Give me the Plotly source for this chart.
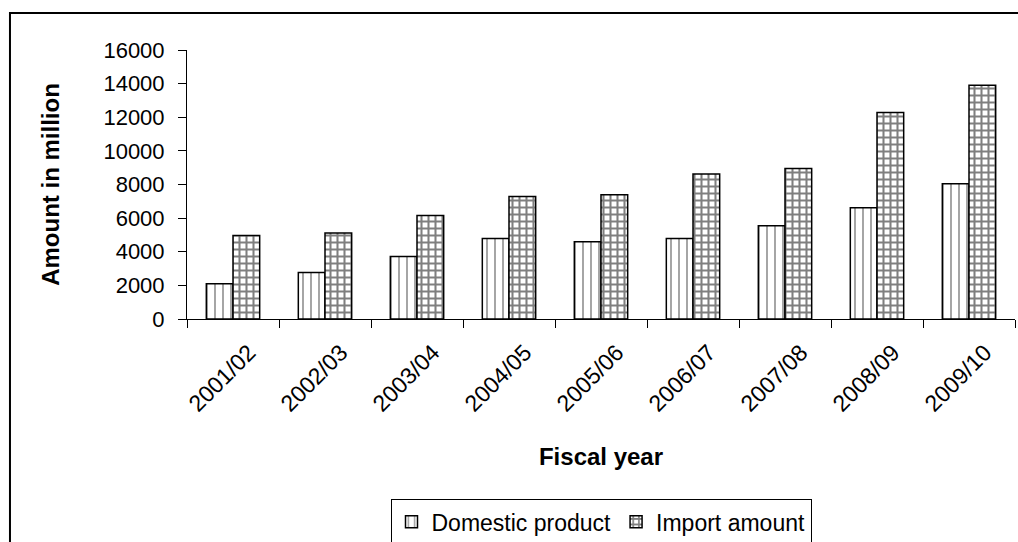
import plotly.graph_objects as go

years = ["2001/02", "2002/03", "2003/04", "2004/05", "2005/06",
         "2006/07", "2007/08", "2008/09", "2009/10"]
domestic = [2100, 2770, 3720, 4790, 4590, 4790, 5540, 6610, 8040]
imports = [4970, 5110, 6160, 7280, 7390, 8630, 8950, 12280, 13900]
y_ticks = [0, 2000, 4000, 6000, 8000, 10000, 12000, 14000, 16000]

FONT = "Liberation Sans, Arial, sans-serif"

fig = go.Figure()
fig.add_trace(go.Bar(
    name="Domestic product", x=years, y=domestic,
    marker=dict(color="white", line=dict(color="black", width=1.5),
                pattern=dict(shape="|", fgcolor="#333", bgcolor="white",
                             size=8, solidity=0.22)),
))
fig.add_trace(go.Bar(
    name="Import amount", x=years, y=imports,
    marker=dict(color="white", line=dict(color="black", width=1.5),
                pattern=dict(shape="+", fgcolor="black", bgcolor="white",
                             size=7, solidity=0.5)),
))

fig.update_layout(
    width=1018, height=542,
    margin=dict(l=187, r=3, t=50, b=223, autoexpand=False),
    paper_bgcolor="white", plot_bgcolor="white",
    barmode="group", bargap=0.42, bargroupgap=0,
    font=dict(family=FONT, size=22, color="black"),
    showlegend=True,
    legend=dict(orientation="h", x=0.5, xanchor="center", y=-0.67, yanchor="top",
                bordercolor="black", borderwidth=1, bgcolor="white",
                font=dict(size=23), itemwidth=30, tracegroupgap=0),
    xaxis=dict(
        type="category", tickangle=-45, showline=True, linecolor="black",
        linewidth=1, ticks="outside", ticklen=8, tickcolor="black",
        tickson="boundaries", showgrid=False, ticklabelstandoff=10,
        ticklabelshift=16, tickfont=dict(size=23),
        title=dict(text="<b>Fiscal year</b>", font=dict(size=24), standoff=32),
    ),
    yaxis=dict(
        range=[0, 16000], tickvals=y_ticks, ticktext=[str(v) for v in y_ticks],
        showline=True, linecolor="black",
        linewidth=1, ticks="outside", ticklen=8, tickcolor="black",
        showgrid=False, zeroline=False, ticklabelstandoff=9,
        tickfont=dict(size=22),
        title=dict(text="<b>Amount in million</b>", font=dict(size=24), standoff=37),
    ),
    shapes=[dict(type="rect", xref="paper", yref="paper",
                 x0=-0.2138, x1=1.1, y0=-1.5, y1=1.1375,
                 line=dict(color="black", width=2), layer="below")],
)

fig.write_html("out.html")
